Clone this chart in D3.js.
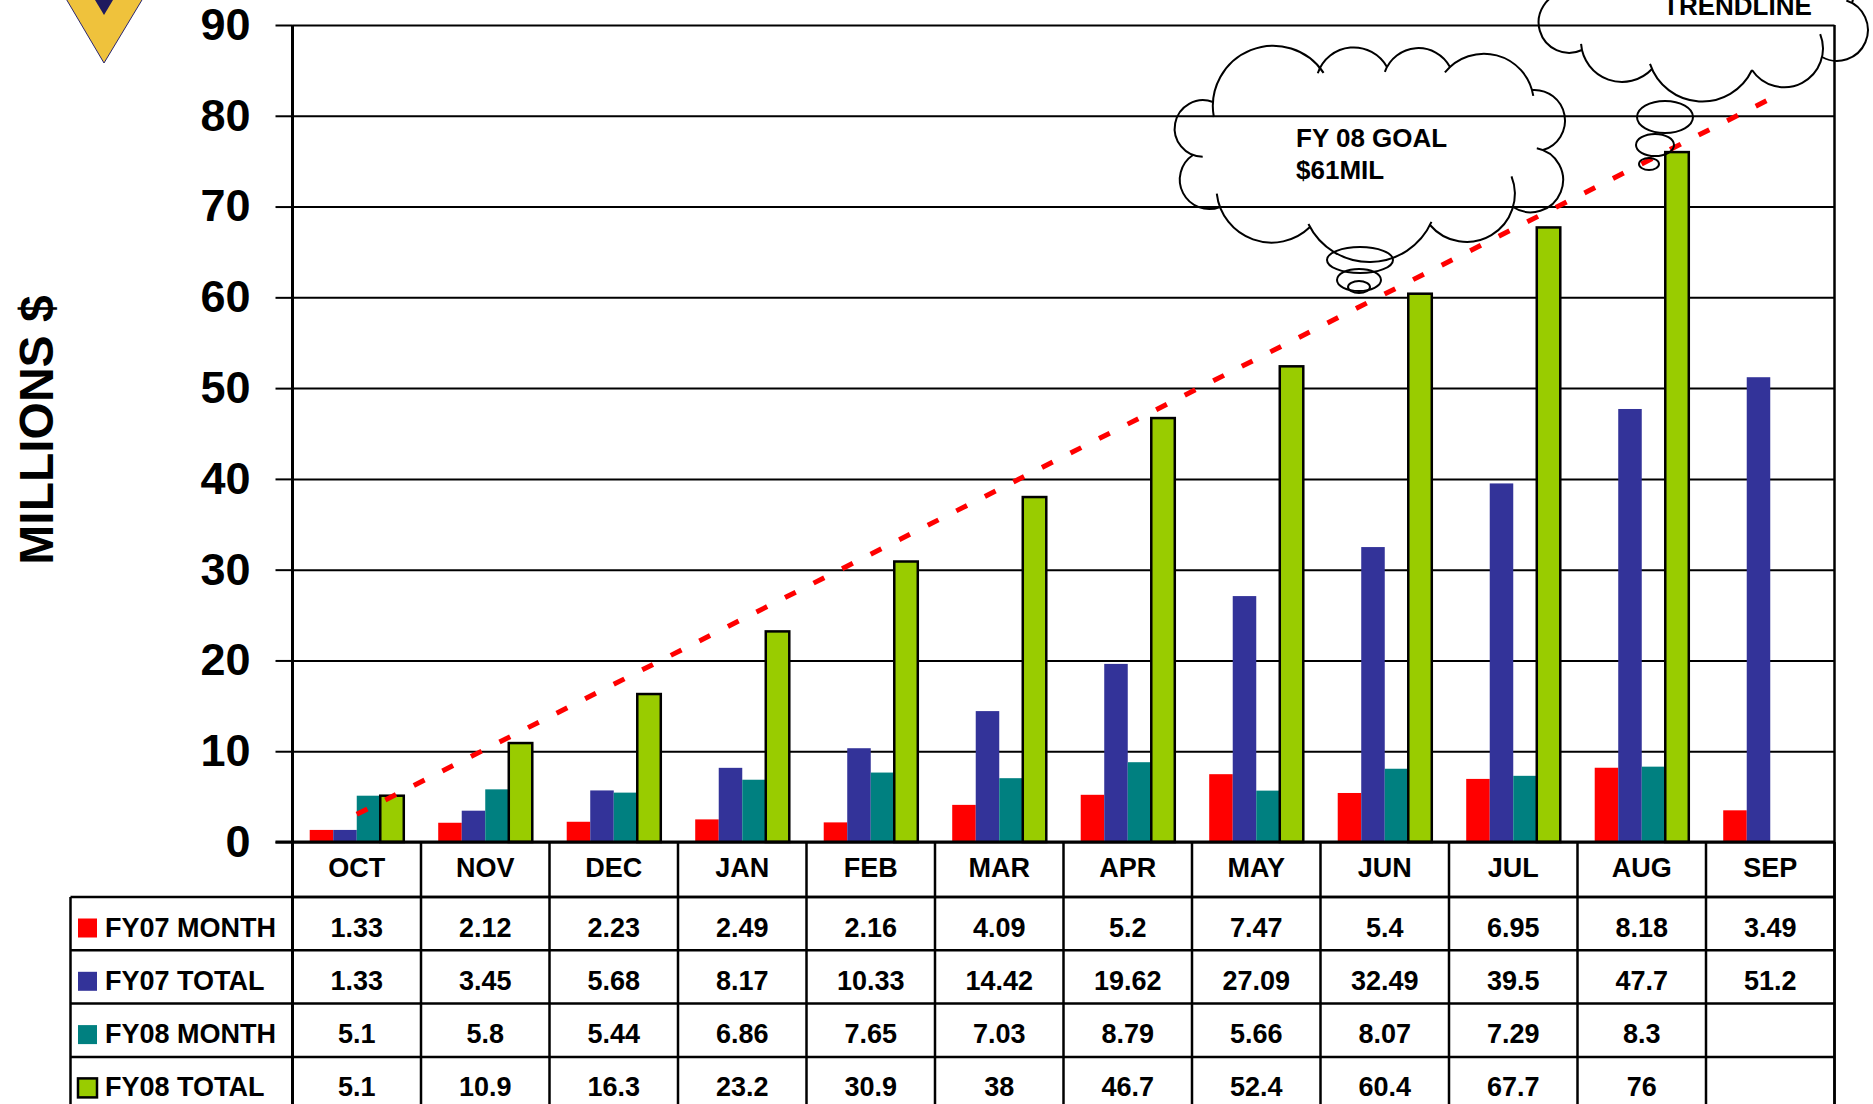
<!DOCTYPE html>
<html>
<head>
<meta charset="utf-8">
<script src="https://cdn.jsdelivr.net/npm/d3@7"></script>
<style>
  html, body { margin: 0; padding: 0; background: #fff; }
  svg { display: block; }
  text { font-family: "Liberation Sans", Arial, sans-serif; font-weight: bold; fill: #000; }
</style>
</head>
<body>
<svg id="chart" width="1873" height="1104"></svg>
<script>
// ---- data ----
const months = ["OCT", "NOV", "DEC", "JAN", "FEB", "MAR", "APR", "MAY", "JUN", "JUL", "AUG", "SEP"];
const seriesNames = ["FY07 MONTH", "FY07 TOTAL", "FY08 MONTH", "FY08 TOTAL"];
const fy07Month = [1.33, 2.12, 2.23, 2.49, 2.16, 4.09, 5.2, 7.47, 5.4, 6.95, 8.18, 3.49];
const fy07Total = [1.33, 3.45, 5.68, 8.17, 10.33, 14.42, 19.62, 27.09, 32.49, 39.5, 47.7, 51.2];
const fy08Month = [5.1, 5.8, 5.44, 6.86, 7.65, 7.03, 8.79, 5.66, 8.07, 7.29, 8.3, null];
const fy08Total = [5.1, 10.9, 16.3, 23.2, 30.9, 38, 46.7, 52.4, 60.4, 67.7, 76, null];
const yTicks = [0, 10, 20, 30, 40, 50, 60, 70, 80, 90];
const yTitle = "MILLIONS $";
const goalLines = ["FY 08 GOAL", "$61MIL"];
const trendLabel = "TRENDLINE";

const seriesValues = [fy07Month, fy07Total, fy08Month, fy08Total];
const colors = ["#FF0000", "#333399", "#008080", "#99CC00"];

// ---- layout ----
const svg = d3.select("#chart");
const plotLeft = 292.5, plotRight = 1834.5, plotTop = 25, plotBottom = 842;
const tableLeft = 70.5;
const headerBottom = 897;
const rowH = 53.3;

const x = d3.scaleBand().domain(months).range([plotLeft, plotRight]).paddingInner(0).paddingOuter(0);
const xs = d3.scaleBand().domain(seriesNames).range([0, x.bandwidth()]).paddingInner(0).paddingOuter(0.732);
const y = d3.scaleLinear().domain([0, 90]).range([plotBottom, plotTop]);

// gridlines
const grid = svg.append("g")
  .attr("transform", `translate(${plotLeft},0)`)
  .call(d3.axisLeft(y).tickValues(yTicks).tickSize(-(plotRight - plotLeft)).tickFormat(""));
grid.select(".domain").remove();
grid.selectAll(".tick line").attr("stroke", "#000").attr("stroke-width", 2);

// y axis with outward ticks and labels
const yAxis = svg.append("g")
  .attr("transform", `translate(${plotLeft},0)`)
  .call(d3.axisLeft(y).tickValues(yTicks).tickSize(17).tickPadding(25).tickFormat(d3.format("d")));
yAxis.select(".domain").remove();
yAxis.selectAll(".tick line").attr("stroke", "#000").attr("stroke-width", 2);
yAxis.selectAll(".tick text")
  .attr("font-size", 45)
  .attr("font-family", "'Liberation Sans', Arial, sans-serif")
  .attr("font-weight", "bold")
  .attr("fill", "#000");

// bars
const barG = svg.append("g");
seriesValues.forEach((vals, si) => {
  barG.append("g").selectAll("rect")
    .data(months.map((m, i) => ({ m, v: vals[i] })).filter(d => d.v != null))
    .join("rect")
    .attr("x", d => x(d.m) + xs(seriesNames[si]))
    .attr("y", d => y(d.v))
    .attr("width", xs.bandwidth())
    .attr("height", d => y(0) - y(d.v))
    .attr("fill", colors[si])
    .attr("stroke", si === 3 ? "#000" : "none")
    .attr("stroke-width", si === 3 ? 2.5 : 0);
});

// linear trendline of FY08 TOTAL, projected one period forward
const pts = fy08Total.map((v, i) => [i, v]).filter(p => p[1] != null);
const mx = d3.mean(pts, p => p[0]), my = d3.mean(pts, p => p[1]);
const slope = d3.sum(pts, p => (p[0] - mx) * (p[1] - my)) / d3.sum(pts, p => (p[0] - mx) ** 2);
const icpt = my - slope * mx;
const trendIdx = [0, months.length - 1];
svg.append("path")
  .datum(trendIdx)
  .attr("d", d3.line()
    .x(i => x(months[i]) + x.bandwidth() / 2)
    .y(i => y(icpt + slope * i)))
  .attr("fill", "none")
  .attr("stroke", "#FF0000")
  .attr("stroke-width", 5)
  .attr("stroke-dasharray", "12 20");

// axis line, zero line, right border
svg.append("line").attr("x1", plotLeft).attr("x2", plotLeft).attr("y1", plotTop).attr("y2", 1104)
  .attr("stroke", "#000").attr("stroke-width", 3);
svg.append("line").attr("x1", plotRight).attr("x2", plotRight).attr("y1", plotTop).attr("y2", 1104)
  .attr("stroke", "#000").attr("stroke-width", 2.5);
svg.append("line").attr("x1", plotLeft - 17).attr("x2", plotRight).attr("y1", plotBottom).attr("y2", plotBottom)
  .attr("stroke", "#000").attr("stroke-width", 3);

// y title
svg.append("text")
  .attr("transform", `translate(53,430) rotate(-90)`)
  .attr("text-anchor", "middle")
  .attr("font-size", 48)
  .text(yTitle);

// ---- data table ----
const table = svg.append("g");
const rowTops = seriesNames.map((s, i) => headerBottom + i * rowH);
// horizontal rules
table.append("line").attr("x1", plotLeft).attr("x2", plotRight).attr("y1", headerBottom).attr("y2", headerBottom)
  .attr("stroke", "#000").attr("stroke-width", 2.5);
table.selectAll(".hrow").data(rowTops).join("line")
  .attr("x1", tableLeft).attr("x2", plotRight)
  .attr("y1", d => d).attr("y2", d => d)
  .attr("stroke", "#000").attr("stroke-width", 2.5);
table.append("line").attr("x1", tableLeft).attr("x2", plotRight)
  .attr("y1", headerBottom + 4 * rowH).attr("y2", headerBottom + 4 * rowH)
  .attr("stroke", "#000").attr("stroke-width", 2.5);
// vertical rules
table.selectAll(".vcol").data(months).join("line")
  .attr("x1", d => x(d) + x.bandwidth()).attr("x2", d => x(d) + x.bandwidth())
  .attr("y1", plotBottom).attr("y2", 1104)
  .attr("stroke", "#000").attr("stroke-width", 2.5);
table.append("line").attr("x1", tableLeft).attr("x2", tableLeft).attr("y1", headerBottom).attr("y2", 1104)
  .attr("stroke", "#000").attr("stroke-width", 2.5);

// month headers
table.selectAll(".mh").data(months).join("text")
  .attr("x", d => x(d) + x.bandwidth() / 2)
  .attr("y", plotBottom + 35)
  .attr("text-anchor", "middle")
  .attr("font-size", 27)
  .text(d => d);

// legend cells and values
seriesNames.forEach((name, si) => {
  const base = rowTops[si] + 39.5;
  table.append("rect")
    .attr("x", 78).attr("y", base - 18).attr("width", 19).attr("height", 19)
    .attr("fill", colors[si])
    .attr("stroke", si === 3 ? "#000" : "none").attr("stroke-width", si === 3 ? 2.5 : 0);
  table.append("text").attr("x", 105).attr("y", base).attr("font-size", 27).text(name);
  table.selectAll(null).data(months.map((m, i) => ({ m, v: seriesValues[si][i] })).filter(d => d.v != null))
    .join("text")
    .attr("x", d => x(d.m) + x.bandwidth() / 2)
    .attr("y", base)
    .attr("text-anchor", "middle")
    .attr("font-size", 27)
    .text(d => String(d.v));
});

// ---- thought clouds ----
// each lobe is a circular arc between two rim points; ext = [before, after] overhang in radians
function drawCloud(g, rim, sag, ext) {
  const cx = d3.mean(rim, p => p[0]), cy = d3.mean(rim, p => p[1]);
  const n = rim.length;
  for (let i = 0; i < n; i++) {
    const A = rim[i], B = rim[(i + 1) % n];
    if (sag[i] == null) continue;
    const mxp = (A[0] + B[0]) / 2, myp = (A[1] + B[1]) / 2;
    const dx = B[0] - A[0], dy = B[1] - A[1];
    const c = Math.hypot(dx, dy);
    let nx = -dy / c, ny = dx / c;
    if (nx * (mxp - cx) + ny * (myp - cy) < 0) { nx = -nx; ny = -ny; }
    const s = sag[i] * c;
    const r = (c * c / 4 + s * s) / (2 * s);
    const ccx = mxp - nx * (r - s), ccy = myp - ny * (r - s);
    const a0 = Math.atan2(A[1] - ccy, A[0] - ccx);
    const a1 = Math.atan2(B[1] - ccy, B[0] - ccx);
    const am = Math.atan2(ny, nx);
    const TWO = Math.PI * 2;
    const mod = v => ((v % TWO) + TWO) % TWO;
    const cw = mod(am - a0) < mod(a1 - a0);
    const e = ext[i] || [0, 0];
    const p = d3.path();
    let s0, s1;
    if (cw) { s0 = a0 - e[0]; s1 = a0 + mod(a1 - a0) + e[1]; }
    else { s0 = a0 + e[0]; s1 = a0 - mod(a0 - a1) - e[1]; }
    p.moveTo(ccx + r * Math.cos(s0), ccy + r * Math.sin(s0));
    p.arc(ccx, ccy, r, s0, s1, !cw);
    g.append("path").attr("d", p.toString()).attr("fill", "none")
      .attr("stroke", "#000").attr("stroke-width", 2);
  }
}
function bubble(g, cx, cy, rx, ry) {
  g.append("ellipse").attr("cx", cx).attr("cy", cy).attr("rx", rx).attr("ry", ry)
    .attr("fill", "none").attr("stroke", "#000").attr("stroke-width", 2);
}

const cloudG = svg.append("g");
drawCloud(cloudG,
  [[1213, 102], [1320, 68], [1387, 67], [1450, 67], [1532, 90], [1543, 150], [1513, 207], [1430, 225], [1310, 227], [1220, 207], [1193, 155]],
  [0.34, 0.3, 0.3, 0.28, 0.45, 0.55, 0.3, 0.3, 0.27, 0.45, 0.5],
  [[0.25, 0.1], [0.15, 0], [0.15, 0], [0.15, 0.12], [0, 0], [0.2, 0], [0.65, 0], [0.05, 0.05], [0, 0.25], [0, 0], [0.35, 0]]);
bubble(cloudG, 1360, 260, 33, 13);
bubble(cloudG, 1359, 280, 22, 11);
bubble(cloudG, 1359, 287, 11, 6);
cloudG.append("text").attr("x", 1296).attr("y", 147).attr("font-size", 26).text(goalLines[0]);
cloudG.append("text").attr("x", 1296).attr("y", 179).attr("font-size", 26).text(goalLines[1]);

drawCloud(cloudG,
  [[1562, -45], [1565, -8], [1582, 50], [1652, 69], [1752, 70], [1822, 57], [1852, 3], [1800, -50], [1680, -60]],
  [0.3, 0.58, 0.3, 0.32, 0.33, 0.5, 0.3, 0.3, 0.3],
  [[0, 0.3], [0, 0], [0.15, 0], [0.1, 0], [0, 0.6], [0, 0.2], [0, 0], [0, 0], [0, 0]]);
bubble(cloudG, 1665, 117, 28, 16);
bubble(cloudG, 1655, 145, 19, 11);
bubble(cloudG, 1649, 164, 10, 6);
cloudG.append("text").attr("x", 1663).attr("y", 15).attr("font-size", 26).text(trendLabel);

// ---- emblem ----
const logo = svg.append("g");
logo.append("path").attr("d", "M55,-20 L154,-20 L104,63 Z")
  .attr("fill", "#EFC23C").attr("stroke", "#2A2670").attr("stroke-width", 1);
logo.append("path").attr("d", "M83,-20 L125,-20 L104,15 Z").attr("fill", "#1F1A5E");
</script>
</body>
</html>
